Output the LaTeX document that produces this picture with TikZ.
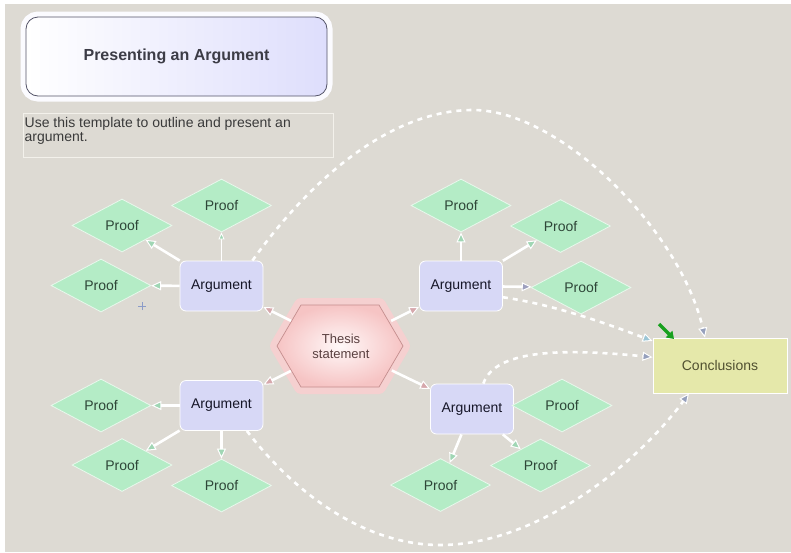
\documentclass[tikz,border=0pt]{standalone}
\usepackage{fontspec}
\setmainfont{Liberation Sans}
\usetikzlibrary{shapes.geometric,arrows.meta}

\definecolor{canvas}{RGB}{221,218,211}
\definecolor{argfill}{RGB}{215,216,246}
\definecolor{argtext}{RGB}{22,22,40}
\definecolor{prooffill}{RGB}{180,236,198}
\definecolor{proofedge}{RGB}{232,248,236}
\definecolor{prooftext}{RGB}{46,70,56}
\definecolor{conclfill}{RGB}{229,232,170}
\definecolor{concltext}{RGB}{80,80,48}
\definecolor{titlefill}{RGB}{222,222,252}
\definecolor{titleedge}{RGB}{84,84,104}
\definecolor{titletext}{RGB}{60,60,70}
\definecolor{desctext}{RGB}{58,58,58}
\definecolor{frameedge}{RGB}{243,241,235}
\definecolor{hexglow}{RGB}{245,208,208}
\definecolor{hexA}{RGB}{246,196,196}
\definecolor{hexB}{RGB}{255,248,248}
\definecolor{hexedge}{RGB}{196,142,142}
\definecolor{hextext}{RGB}{90,64,64}
\definecolor{tipgreen}{RGB}{160,214,180}
\definecolor{tippink}{RGB}{214,168,172}
\definecolor{tipgray}{RGB}{158,160,190}
\definecolor{tipblue}{RGB}{150,160,188}
\definecolor{tipcyan}{RGB}{156,198,214}
\definecolor{icongreen}{RGB}{24,160,30}
\definecolor{cursorblue}{RGB}{140,156,200}

\tikzset{
  argbox/.style={rectangle, rounded corners=6pt, fill=argfill, draw=white,
    line width=0.8pt, minimum width=83pt, minimum height=50pt, inner sep=0pt,
    font=\fontsize{14}{16}\selectfont, text=argtext},
  proof/.style={diamond, aspect=1.9, fill=prooffill, draw=proofedge,
    line width=0.8pt, minimum width=100pt, minimum height=53pt, inner sep=0pt,
    font=\fontsize{14}{16}\selectfont, text=prooftext},
  conclbox/.style={rectangle, fill=conclfill, draw=white, line width=0.9pt,
    minimum width=134pt, minimum height=55pt, inner sep=0pt,
    font=\fontsize{14}{16}\selectfont, text=concltext},
  titlebox/.style={rectangle, rounded corners=12pt, left color=white,
    right color=titlefill, draw=titleedge, line width=0.8pt,
    minimum width=301pt, minimum height=79pt, inner sep=0pt,
    preaction={draw=white!88!titlefill, line width=11pt},
    font=\fontsize{16}{18}\selectfont\bfseries, text=titletext},
  link/.style={draw=white, line width=2.6pt},
  thinlink/.style={draw=white, line width=1.2pt},
  dashlink/.style={draw=white, line width=2.6pt, dash pattern=on 5pt off 5pt},
  tipG/.style={-{Triangle[length=10pt,width=9pt,line width=1pt,fill=tipgreen]}},
  tipGs/.style={-{Triangle[length=7pt,width=6pt,line width=0.8pt,fill=tipgreen]}},
  tipP/.style={-{Triangle[length=10pt,width=9pt,line width=1pt,fill=tippink]}},
  tipL/.style={-{Triangle[length=10pt,width=9pt,line width=1pt,fill=tipgray]}},
  tipD/.style={-{Triangle[length=10pt,width=9pt,line width=1pt,fill=tipblue]}},
  tipC/.style={-{Triangle[length=10pt,width=9pt,line width=1pt,fill=tipcyan]}},
}

\begin{document}
\begin{tikzpicture}[x=1pt,y=-1pt]
  % page and canvas
  \useasboundingbox (0,0) rectangle (791,552);
  \fill[white] (0,0) rectangle (791,552);
  \fill[canvas] (5,4) rectangle (791,552);

  % heading and description
  \node[titlebox] (title) at (176.5,56.5) {Presenting an Argument};
  \node[draw=frameedge, line width=0.8pt, minimum width=310pt,
        minimum height=44pt, inner sep=0pt, anchor=north west]
        (descframe) at (23,113) {};
  \node[anchor=north west, align=left, inner sep=0pt,
        font=\fontsize{14}{14}\selectfont, text=desctext]
        (desc) at (24.5,117) {Use this template to outline and present an\\argument.};

  % thesis hexagon with its soft halo
  \draw[hexedge, line width=0.7pt, inner color=hexB, outer color=hexA,
        preaction={draw=hexglow, line width=14pt, line join=round}]
    (277,346) -- (301,305) -- (379,305) -- (403,346) -- (379,387)
    -- (301,387) -- cycle;
  \node[ellipse, minimum width=126pt, minimum height=82pt, inner sep=0pt,
        align=center, font=\fontsize{13}{15}\selectfont, text=hextext]
        (thesis) at (341,346) {Thesis\\statement};

  % arguments
  \node[argbox] (argTL) at (221.5,286) {Argument};
  \node[argbox] (argTR) at (461,286) {Argument};
  \node[argbox] (argBL) at (221.5,405.5) {Argument};
  \node[argbox] (argBR) at (472,409) {Argument};

  % proofs
  \node[proof] (pTLa) at (122,225.5) {Proof};
  \node[proof] (pTLb) at (221.5,205.5) {Proof};
  \node[proof] (pTLc) at (101,285.5) {Proof};
  \node[proof] (pTRa) at (461,205.5) {Proof};
  \node[proof] (pTRb) at (560.5,226) {Proof};
  \node[proof] (pTRc) at (581,287.5) {Proof};
  \node[proof] (pBLa) at (101,405.5) {Proof};
  \node[proof] (pBLb) at (122,465) {Proof};
  \node[proof] (pBLc) at (221.5,485.5) {Proof};
  \node[proof] (pBRa) at (562,405.5) {Proof};
  \node[proof] (pBRb) at (540.5,465.5) {Proof};
  \node[proof] (pBRc) at (440.5,485) {Proof};

  % conclusions
  \node[conclbox] (concl) at (720,365.5) {Conclusions};

  % thesis to arguments
  \draw[link, tipP] (thesis) -- (argTL);
  \draw[link, tipP] (thesis) -- (argTR);
  \draw[link, tipP] (thesis) -- (argBL);
  \draw[link, tipP] (thesis) -- (argBR);

  % arguments to proofs
  \draw[link, tipG] (argTL) -- (pTLa);
  \draw[thinlink, tipGs] (argTL) -- (pTLb);
  \draw[link, tipG] (argTL) -- (pTLc);
  \draw[link, tipG] (argTR) -- (pTRa);
  \draw[link, tipG] (argTR) -- (pTRb);
  \draw[link, tipL] (argTR) -- (pTRc);
  \draw[link, tipG] (argBL) -- (pBLa);
  \draw[link, tipG] (argBL) -- (pBLb);
  \draw[link, tipG] (argBL) -- (pBLc);
  \draw[link, tipG] (argBR) -- (pBRb);
  \draw[link, tipG] (argBR) -- (pBRc);

  % arguments to conclusions
  \draw[dashlink, tipD] ([xshift=-11pt]argTL.north east)
    .. controls (310,180) and (390,110) .. (473,110)
    .. controls (560,110) and (680,230) .. ([xshift=-15pt]concl.north);
  \draw[dashlink, tipC] (argTR.-15)
    .. controls (555,305) and (605,323) .. (concl.160);
  \draw[dashlink, tipD] (argBR.66)
    .. controls (495,350) and (560,348) .. (concl.173);
  \draw[dashlink, tipD] (argBL.-45)
    .. controls (300,500) and (370,545) .. (440,545)
    .. controls (540,545) and (640,460) .. (concl.222);

  % marker icon at the conclusions box
  \coordinate (iconTail) at (659,324);
  \coordinate (iconTip) at (674,339);
  \draw[icongreen, line width=3.2pt,
        -{Triangle[length=7pt,width=9pt]}] (iconTail) -- (iconTip);

  % pointer cross
  \coordinate (cursor) at (142,306);
  \draw[cursorblue, line width=0.5pt]
    ([xshift=-4pt]cursor) -- ([xshift=4pt]cursor)
    ([yshift=-4pt]cursor) -- ([yshift=4pt]cursor);
\end{tikzpicture}
\end{document}
